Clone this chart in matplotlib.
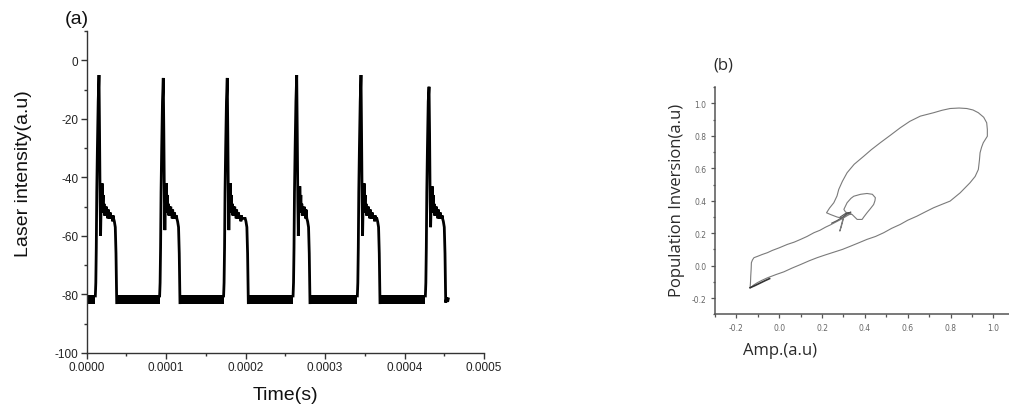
import matplotlib
matplotlib.use("Agg")
import matplotlib.pyplot as plt
from matplotlib.ticker import MultipleLocator, FormatStrFormatter

plt.rcParams["axes.unicode_minus"] = False

# ---------------- (a) laser intensity time trace ----------------
# pulse landmarks (times in seconds)
peak_time = [15.5e-6, 96.4e-6, 176.9e-6, 264.3e-6, 345.2e-6, 430.8e-6]
peak_level = [-5, -6, -6, -5, -5, -9]
dip_level = [-60, -58, -58, -60, -60, -57]
echo_level = [-42, -42, -42, -43, -42, -43]
fall_time = [37.8e-6, 117.4e-6, 203.4e-6, 281.0e-6, 369.1e-6, 451.8e-6]
record_end = 455.0e-6
floor_low, floor_high = -83.3, -80.3

# common pulse outline, offsets in microseconds from the spike
rise_dt = [-4.6, -4.0, -3.4, -2.8, -2.0, -1.0]
rise_level = [-80.5, -76, -64, -45, -30, -14]
spike_dt = [0.7, 1.4]
spike_level = [-25, -48]
dip_dt = 2.0
ring_dt = [2.8, 3.3]
ring_level = [-47, -52]
echo_dt = 3.9
plateau_dt = [4.6, 5.2, 5.8, 6.4, 7.0, 7.6, 8.2, 8.8, 9.4, 10.0, 10.6, 11.2, 11.8,
              12.4, 13.0, 13.6, 14.2, 14.8, 15.4, 16.0, 16.6, 17.2, 17.8, 18.4]
plateau_level = [-50, -46, -52, -49, -53, -50, -51, -53, -50, -53, -51, -54, -51,
                 -53, -52, -54, -52, -54, -53, -54, -53, -55, -53, -54]
# offsets in microseconds from the return to the floor
tail_dt = [-4.0, -3.0, -1.8, -0.9, 0.0]
tail_level = [-54, -55, -57, -66, -82.8]
end_stub_dt = [1.2, 2.4, 3.2]
end_stub_level = [-81, -82.5, -81.5]

# ---------------- (b) phase portrait ----------------
amp = [-0.136, -0.134, -0.133, -0.131, -0.130, -0.125, -0.118, -0.100, -0.079, -0.055,
       -0.032, 0.000, 0.038, 0.070, 0.100, 0.130, 0.162, 0.190, 0.216, 0.240,
       0.263, 0.285, 0.301, 0.320, 0.335, 0.310, 0.302, 0.317, 0.335, 0.348,
       0.380, 0.410, 0.435, 0.449, 0.447, 0.441, 0.425, 0.410, 0.395, 0.387,
       0.364, 0.340, 0.320, 0.300, 0.290, 0.283, 0.290, 0.300, 0.270, 0.240,
       0.221, 0.235, 0.255, 0.270, 0.278, 0.295, 0.317, 0.350, 0.395, 0.430,
       0.472, 0.520, 0.565, 0.610, 0.659, 0.721, 0.760, 0.798, 0.840, 0.876,
       0.905, 0.930, 0.955, 0.969, 0.972, 0.972, 0.953, 0.945, 0.938, 0.935,
       0.930, 0.915, 0.891, 0.845, 0.798, 0.760, 0.721, 0.680, 0.643, 0.600,
       0.565, 0.525, 0.488, 0.450, 0.410, 0.370, 0.333, 0.295, 0.255, 0.215,
       0.177, 0.140, 0.100, 0.060, 0.022, -0.015, -0.055, -0.080, -0.102, -0.120,
       -0.133]
inv = [-0.136, -0.100, -0.065, -0.020, 0.018, 0.035, 0.049, 0.058, 0.069, 0.080,
       0.094, 0.110, 0.131, 0.145, 0.162, 0.180, 0.203, 0.218, 0.237, 0.252,
       0.268, 0.283, 0.295, 0.310, 0.320, 0.330, 0.347, 0.388, 0.415, 0.428,
       0.440, 0.445, 0.440, 0.419, 0.400, 0.377, 0.350, 0.326, 0.300, 0.285,
       0.285, 0.316, 0.320, 0.300, 0.250, 0.213, 0.240, 0.290, 0.300, 0.315,
       0.326, 0.355, 0.388, 0.430, 0.470, 0.520, 0.573, 0.625, 0.675, 0.715,
       0.758, 0.805, 0.850, 0.890, 0.922, 0.943, 0.958, 0.969, 0.972, 0.969,
       0.960, 0.943, 0.915, 0.881, 0.840, 0.798, 0.758, 0.730, 0.696, 0.650,
       0.593, 0.550, 0.511, 0.449, 0.398, 0.378, 0.357, 0.330, 0.305, 0.280,
       0.254, 0.230, 0.203, 0.180, 0.162, 0.140, 0.120, 0.100, 0.083, 0.066,
       0.049, 0.030, 0.007, -0.015, -0.038, -0.055, -0.075, -0.090, -0.105, -0.120,
       -0.136]
# retraced stretches that show up darker
dense_amp_low = [-0.136, -0.115, -0.090, -0.065, -0.045]
dense_inv_low = [-0.136, -0.124, -0.108, -0.092, -0.080]
dense_amp_mid = [0.245, 0.270, 0.295, 0.315, 0.335, 0.310, 0.285]
dense_inv_mid = [0.262, 0.278, 0.298, 0.318, 0.330, 0.322, 0.300]

fig = plt.figure(figsize=(10.09, 4.10), dpi=100)

# ---------- panel (a) ----------
ax = fig.add_axes([0.0859, 0.1366, 0.3938, 0.785])
us = 1e-6
onsets = []
for k in range(len(peak_time)):
    tp, tf = peak_time[k], fall_time[k]
    ts, vs = [], []
    for dt, lv in zip(rise_dt, rise_level):
        ts.append(tp + dt * us); vs.append(lv)
    ts.append(tp); vs.append(peak_level[k])
    for dt, lv in zip(spike_dt, spike_level):
        ts.append(tp + dt * us); vs.append(lv)
    ts.append(tp + dip_dt * us); vs.append(dip_level[k])
    for dt, lv in zip(ring_dt, ring_level):
        ts.append(tp + dt * us); vs.append(lv)
    ts.append(tp + echo_dt * us); vs.append(echo_level[k])
    limit = tf + tail_dt[0] * us - 0.3 * us
    for dt, lv in zip(plateau_dt, plateau_level):
        if tp + dt * us < limit:
            ts.append(tp + dt * us); vs.append(lv)
    for dt, lv in zip(tail_dt, tail_level):
        ts.append(tf + dt * us); vs.append(lv)
    if k == len(peak_time) - 1:
        for dt, lv in zip(end_stub_dt, end_stub_level):
            ts.append(tf + dt * us); vs.append(lv)
    onsets.append(tp + rise_dt[0] * us)
    ax.plot(ts, vs, color="black", lw=2.0, solid_joinstyle="miter")

# noisy floor between pulses
gap_start = [0.0] + fall_time[:-1]
gap_end = onsets
for a, b in zip(gap_start, gap_end):
    ax.fill_between([a, b], [floor_low, floor_low], [floor_high, floor_high],
                    color="black", lw=0)

ax.set_xlim(0, 0.0005)
ax.set_ylim(-100, 10)
ax.set_yticks([-100, -80, -60, -40, -20, 0])
ax.set_xticks([0, 0.0001, 0.0002, 0.0003, 0.0004, 0.0005])
ax.xaxis.set_major_formatter(FormatStrFormatter("%.4f"))
ax.xaxis.set_minor_locator(MultipleLocator(0.00005))
ax.yaxis.set_minor_locator(MultipleLocator(10))
for s in ("top", "right"):
    ax.spines[s].set_visible(False)
for s in ("left", "bottom"):
    ax.spines[s].set_color("#333333")
    ax.spines[s].set_linewidth(1.0)
ax.tick_params(which="major", direction="out", length=4, width=1.0, color="#333333",
               labelsize=8.5, labelcolor="#222222", pad=2)
ax.tick_params(which="minor", direction="out", length=2.5, width=1.0, color="#333333")
for lab in ax.get_xticklabels() + ax.get_yticklabels():
    lab.set_fontfamily("Liberation Sans")
ax.set_xlabel("Time(s)", fontsize=14, fontfamily="Liberation Sans", color="#111111")
ax.set_ylabel("Laser intensity(a.u)", fontsize=14, fontfamily="Liberation Sans", color="#111111")
ax.xaxis.set_label_coords(0.499, -0.103)
ax.yaxis.set_label_coords(-0.138, 0.56)
fig.text(65 / 1009, 1 - 19.5 / 410, "(a)", fontsize=14, fontfamily="Liberation Sans",
         va="center", ha="left", color="#111111")

# ---------- panel (b) ----------
bx = fig.add_axes([0.7086, 0.231, 0.2971, 0.5537])
bx.plot(amp, inv, color="#7a7a7a", lw=0.8)
bx.plot(dense_amp_low, dense_inv_low, color="#333333", lw=1.2)
bx.plot(dense_amp_mid, dense_inv_mid, color="#555555", lw=0.8)
bx.set_xlim(-0.3, 1.1)
bx.set_ylim(-0.3, 1.1)
bx.set_xticks([-0.2, 0.0, 0.2, 0.4, 0.6, 0.8, 1.0])
bx.set_yticks([-0.2, 0.0, 0.2, 0.4, 0.6, 0.8, 1.0])
bx.xaxis.set_major_formatter(FormatStrFormatter("%.1f"))
bx.yaxis.set_major_formatter(FormatStrFormatter("%.1f"))
bx.xaxis.set_minor_locator(MultipleLocator(0.1))
bx.yaxis.set_minor_locator(MultipleLocator(0.1))
for s in ("top", "right"):
    bx.spines[s].set_visible(False)
for s in ("left", "bottom"):
    bx.spines[s].set_color("#555555")
    bx.spines[s].set_linewidth(1.1)
bx.tick_params(which="major", direction="out", length=3, width=0.9, color="#555555",
               labelsize=5.5, labelcolor="#666666", pad=3)
bx.tick_params(which="minor", direction="out", length=1.8, width=0.9, color="#555555")
bx.set_xlabel("Amp.(a.u)", fontsize=12, fontfamily="Open Sans", color="#2a2a2a")
bx.set_ylabel("Population Inversion(a.u)", fontsize=12, fontfamily="Open Sans", color="#2a2a2a")
bx.xaxis.set_label_coords(0.217, -0.12)
bx.yaxis.set_label_coords(-0.10, 0.504)
fig.text(713 / 1009, 1 - 65.5 / 410, "(b)", fontsize=12, fontfamily="Open Sans",
         va="center", ha="left", color="#2a2a2a")

fig.savefig("out.png", dpi=100)
